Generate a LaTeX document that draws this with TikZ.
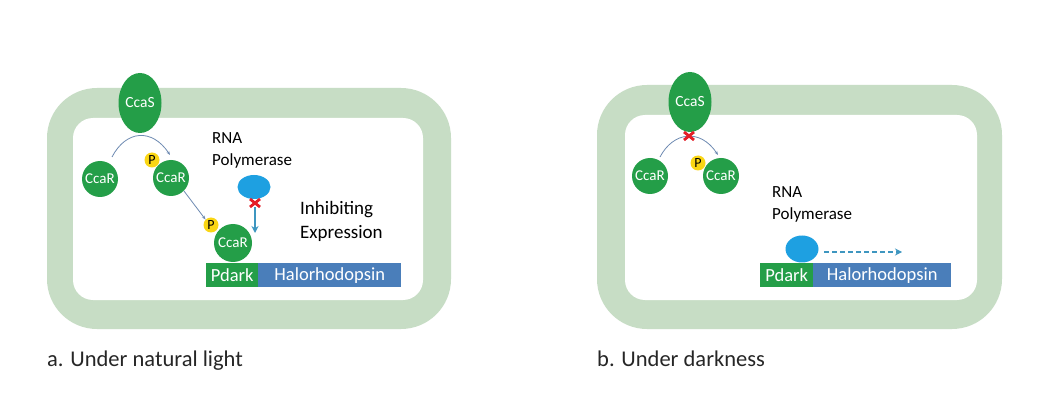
\documentclass[tikz,border=0pt]{standalone}
\usepackage{fontspec}
\setmainfont{Carlito}
\usetikzlibrary{shapes.geometric,arrows.meta,calc}
\definecolor{band}{RGB}{199,221,197}
\definecolor{pgreen}{RGB}{36,158,72}
\definecolor{hblue}{RGB}{74,126,186}
\definecolor{polblue}{RGB}{30,160,225}
\definecolor{pyellow}{RGB}{250,214,20}
\definecolor{xred}{RGB}{228,30,40}
\definecolor{arcline}{RGB}{110,138,178}
\definecolor{teal}{RGB}{62,150,192}
\tikzset{
  x=1pt,y=-1pt,
  cell/.style={fill=band,rounded corners=50pt},
  cellin/.style={fill=white,rounded corners=20pt},
  ccas/.style={ellipse,fill=pgreen,text=white,minimum width=43pt,minimum height=60pt,inner sep=0pt,font=\fontsize{15.5}{15.5}\selectfont},
  ccar/.style={circle,fill=pgreen,text=white,minimum size=36pt,inner sep=0pt,font=\fontsize{15}{15}\selectfont},
  phos/.style={circle,fill=pyellow,text=black,minimum size=15pt,inner sep=0pt,font=\fontsize{14}{14}\selectfont},
  pol/.style={ellipse,fill=polblue,minimum width=33pt,minimum height=24pt,inner sep=0pt},
  pdark/.style={fill=pgreen,text=white,minimum height=24pt,inner sep=0pt,anchor=north west,font=\fontsize{18.5}{18.5}\selectfont},
  halo/.style={fill=hblue,text=white,minimum height=24pt,inner sep=0pt,anchor=north west,font=\fontsize{18.5}{18.5}\selectfont},
  lbl/.style={align=left,anchor=north west,inner sep=0pt,font=\fontsize{17}{22}\selectfont},
  inh/.style={align=left,anchor=north west,inner sep=0pt,font=\fontsize{19}{24}\selectfont},
  captxt/.style={anchor=west,inner sep=0pt,font=\fontsize{22.5}{22.5}\selectfont,text=black!85},
  thinarr/.style={draw=arcline,line width=0.8pt,-{Stealth[length=4pt,width=3pt]}},
  polarr/.style={draw=teal,line width=2pt,-{Stealth[length=7pt,width=7pt]}},
  dasharr/.style={draw=teal,line width=1.6pt,dash pattern=on 5pt off 3pt,-{Stealth[length=7pt,width=7pt]}},
  redx/.style={draw=xred,line width=2.8pt}
}
\begin{document}
\begin{tikzpicture}
\useasboundingbox (0,0) rectangle (1050,406);
\fill[white] (0,0) rectangle (1050,406);
% ---------- panel a ----------
\fill[cell] (47,88) rectangle (451,329);
\fill[cellin] (73,118) rectangle (423,300);
\node[ccas] (sA) at (140,103) {CcaS};
\node[ccar] (r1A) at (100,179) {CcaR};
\node[ccar] (r2A) at (171,178) {CcaR};
\node[phos] (p2A) at (152,160) {P};
\node[pdark,minimum width=52pt] (pdA) at (206,263) {Pdark};
\node[halo,minimum width=143pt] (hA) at (258,263) {Halorhodopsin};
\node[ccar,minimum size=38pt] (r3A) at (233,243) {CcaR};
\node[phos] (p3A) at (211,225) {P};
\node[pol] (polA) at (254,187) {};
\node[lbl] (rnaA) at (212,132) {RNA\\Polymerase};
\node[inh] (inhA) at (300,201) {Inhibiting\\Expression};
\coordinate (a1) at (112,157);
\coordinate (a2) at (170,155);
\draw[thinarr] (a1) .. controls (126,130) and (152,128) .. (a2);
\draw[thinarr] (r2A.-45) -- (p3A.north west);
\coordinate (xA) at (255,203);
\coordinate (arrA) at (255,233);
\draw[polarr] (255,207) -- (arrA);
\draw[redx] ($(xA)+(-5,-4)$) -- ($(xA)+(5,4)$) ($(xA)+(-5,4)$) -- ($(xA)+(5,-4)$);
\node[captxt] (capA) at (47,361) {a. Under natural light};
% ---------- panel b ----------
\fill[cell] (597,85) rectangle (1002,329);
\fill[cellin] (625,115) rectangle (977,300);
\node[ccas] (sB) at (690,102) {CcaS};
\node[ccar] (r1B) at (650,176) {CcaR};
\node[ccar] (r2B) at (721,176) {CcaR};
\node[phos] (p2B) at (698,163) {P};
\coordinate (b1) at (660,157);
\coordinate (b2) at (718,155);
\draw[thinarr] (b1) .. controls (673,132) and (700,128) .. (b2);
\coordinate (xB) at (689,136);
\draw[redx] ($(xB)+(-5,-4)$) -- ($(xB)+(5,4)$) ($(xB)+(-5,4)$) -- ($(xB)+(5,-4)$);
\node[pdark,minimum width=53pt] (pdB) at (760,263) {Pdark};
\node[halo,minimum width=138pt] (hB) at (813,263) {Halorhodopsin};
\node[pol,minimum height=27pt] (polB) at (802,249) {};
\node[lbl] (rnaB) at (772,186) {RNA\\Polymerase};
\coordinate (dB) at (902,252);
\coordinate (dA) at (824,252);
\draw[dasharr] (dA) -- (dB);
\node[captxt] (capB) at (597,359) {b. Under darkness};
\end{tikzpicture}
\end{document}
